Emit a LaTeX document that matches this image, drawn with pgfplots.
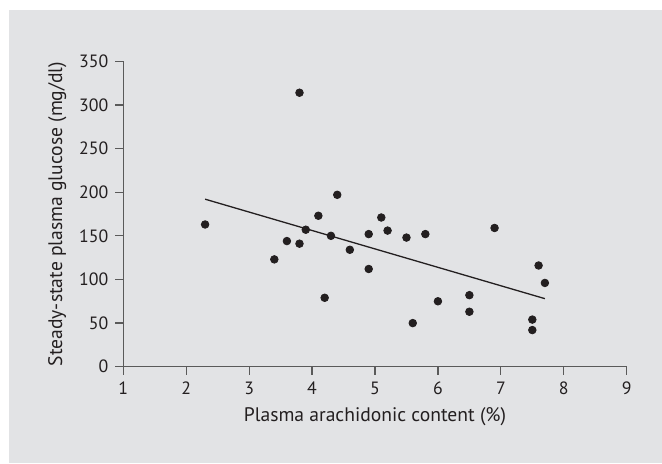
\documentclass[border=0pt]{standalone}
\usepackage{fontspec}
\setmainfont{PT Sans}
\usepackage{pgfplots}
\pgfplotsset{compat=1.18}

\definecolor{bggray}{HTML}{E2E3E5}
\definecolor{ink}{HTML}{231F20}
\definecolor{axisgray}{HTML}{5A5A5A}

% scatter data: arachidonic content (%) vs steady-state glucose (mg/dl)
\pgfplotstableread{
x    y
2.3  163
3.4  123
3.6  144
3.8  314
3.8  141
3.9  157
4.1  173
4.2  79
4.3  150
4.4  197
4.6  134
4.9  152
4.9  112
5.1  171
5.2  156
5.5  148
5.6  50
5.8  152
6.0  75
6.5  82
6.5  63
6.9  159
7.5  54
7.5  42
7.6  116
7.7  96
}\glucosedata

\begin{document}
\begin{tikzpicture}[x=0.5pt,y=0.5pt]
% page frame (1 px of the reference = 0.5pt), axis origin at px (123.3,366.7)
\fill[white] (-123.3,-96.3) rectangle (538.7,366.7);
\fill[bggray] (-114.3,-96.3) rectangle (538.7,356.7);
\begin{axis}[
  at={(0,0)}, anchor=origin,
  scale only axis,
  width=251.7pt, height=152.7pt,
  xmin=1, xmax=9, ymin=0, ymax=350,
  xtick={1,...,9},
  ytick={0,50,...,350},
  axis x line*=bottom, axis y line*=left,
  axis line style={axisgray, line width=0.65pt},
  every tick/.style={axisgray, line width=0.6pt},
  tick align=outside,
  major tick length=4pt,
  clip=false,
  tick label style={font=\fontsize{8.9}{10}\selectfont, text=ink},
  /pgf/number format/assume math mode=true,
  xlabel={Plasma arachidonic content (\%)},
  ylabel={Steady-state plasma glucose (mg/dl)},
  label style={font=\fontsize{9.8}{11}\selectfont, text=ink},
  xlabel style={at={(axis description cs:0.5,-0.1637)}, anchor=center},
  ylabel style={at={(axis description cs:-0.131,0.5)}, anchor=center},
]
\addplot[only marks, mark=*, mark size=1.9pt, ink, mark options={fill=ink, draw=ink}]
  table[x=x, y=y] {\glucosedata};
% regression line
\addplot[ink, line width=0.65pt] coordinates {(2.3,192) (7.7,78)};
\end{axis}
\end{tikzpicture}
\end{document}
